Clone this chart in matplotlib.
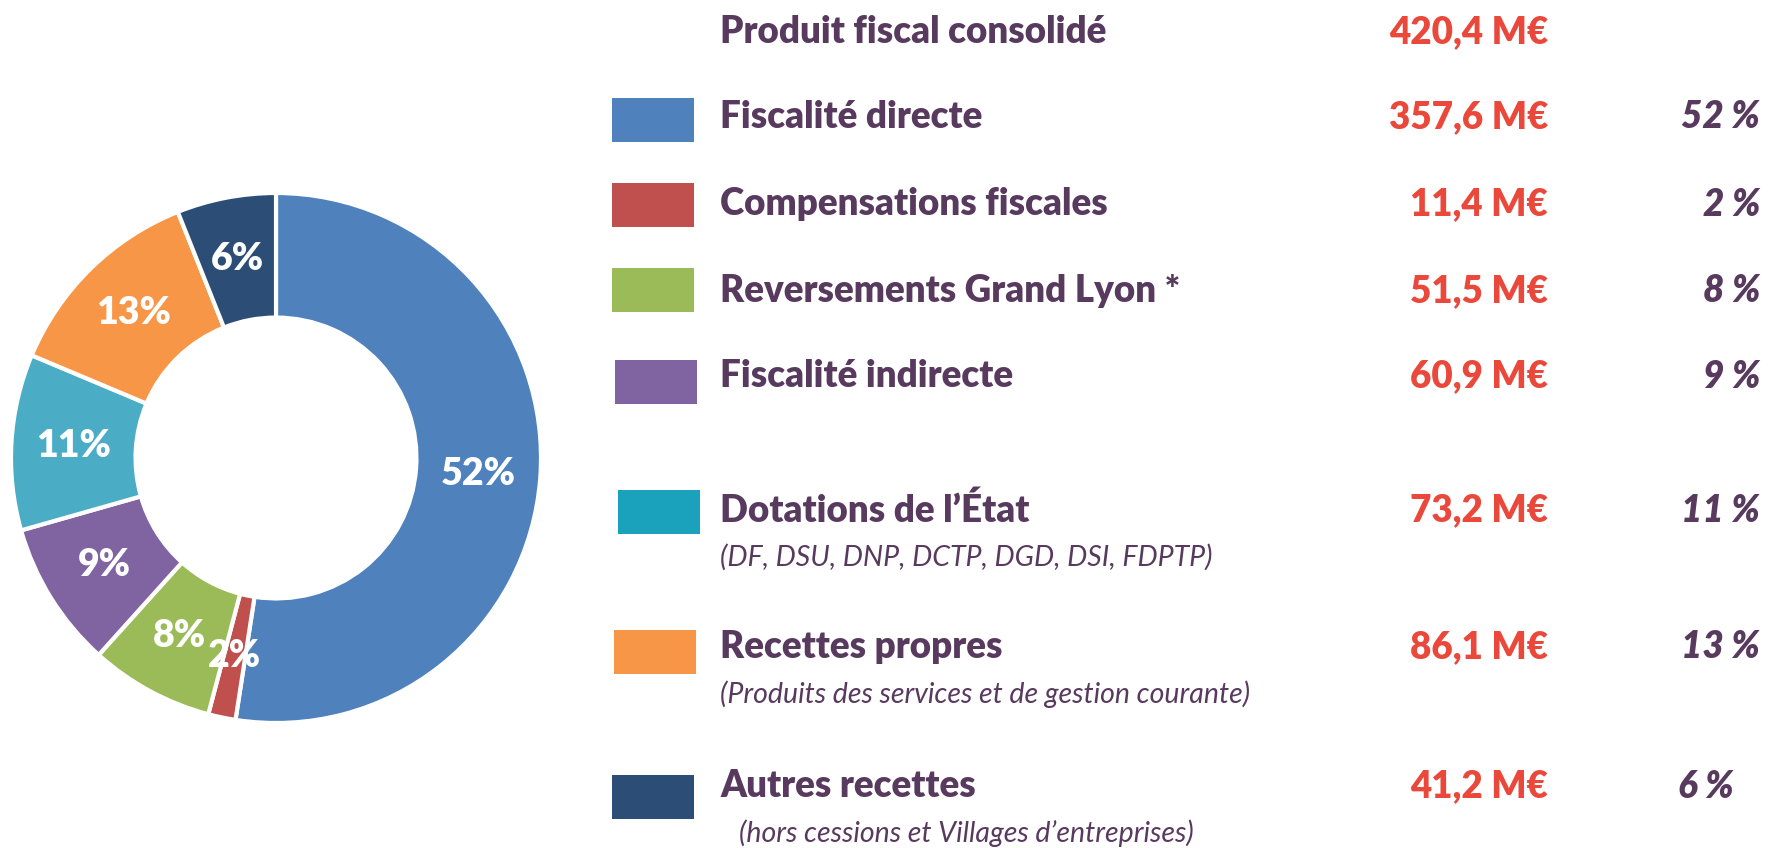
import matplotlib.pyplot as plt
from matplotlib.patches import Rectangle

plt.rcParams["font.family"] = ["Lato", "DejaVu Sans"]

# données
categories = ["Fiscalité directe", "Compensations fiscales", "Reversements Grand Lyon *",
              "Fiscalité indirecte", "Dotations de l’État", "Recettes propres", "Autres recettes"]
sous_titres = ["", "", "", "", "(DF, DSU, DNP, DCTP, DGD, DSI, FDPTP)",
               "(Produits des services et de gestion courante)",
               "(hors cessions et Villages d’entreprises)"]
montants = [357.6, 11.4, 51.5, 60.9, 73.2, 86.1, 41.2]
montants_txt = ["357,6 M€", "11,4 M€", "51,5 M€", "60,9 M€", "73,2 M€", "86,1 M€", "41,2 M€"]
pct_txt = ["52 %", "2 %", "8 %", "9 %", "11 %", "13 %", "6 %"]
total_txt = "420,4 M€"

couleurs = ["#4F81BD", "#C0504D", "#9BBB59", "#8064A2", "#4BACC6", "#F79646", "#2C4D75"]
couleurs_leg = ["#4F81BD", "#C0504D", "#9BBB59", "#8064A2", "#1AA1BB", "#F79646", "#2C4D75"]
violet = "#583A5F"
rouge = "#E9483A"

W, H = 1769, 848
fig = plt.figure(figsize=(W / 100, H / 100), dpi=100)

# donut : centre (276, 458) px, rayon 265 px
ax = fig.add_axes([(276 - 265) / W, (H - 458 - 265) / H, 530 / W, 530 / H])
ax.pie(montants, colors=couleurs, startangle=90, counterclock=False,
       radius=1, wedgeprops=dict(width=0.47, edgecolor="white", linewidth=3),
       autopct=lambda p: f"{p:.0f}%", pctdistance=0.765,
       textprops=dict(color="white", fontsize=27, fontweight="heavy"))
ax.set_xlim(-1, 1)
ax.set_ylim(-1, 1)
ax.axis("off")


def px(x, y):
    return x / W, 1 - y / H


# légende à droite
fs = 26.5
fig.text(*px(720, 32), "Produit fiscal consolidé", color=violet, fontsize=fs,
         fontweight="heavy", va="center")
fig.text(*px(1548, 32), total_txt, color=rouge, fontsize=fs, fontweight="heavy",
         va="center", ha="right")

y_lignes = [117, 204, 291, 376, 510, 647, 786]
y_carres = [120, 205, 290, 382, 512, 652, 797]
x_carres = [612, 612, 612, 615, 618, 614, 612]
x_sous = [720, 720, 720, 720, 720, 720, 739]
for i, nom in enumerate(categories):
    x0, y0 = px(x_carres[i], y_carres[i] + 22)
    fig.add_artist(Rectangle((x0, y0), 82 / W, 44 / H, transform=fig.transFigure,
                             facecolor=couleurs_leg[i], edgecolor="none"))
    fig.text(*px(720, y_lignes[i]), nom, color=violet, fontsize=fs,
             fontweight="heavy", va="center")
    fig.text(*px(1548, y_lignes[i]), montants_txt[i], color=rouge, fontsize=fs,
             fontweight="heavy", va="center", ha="right")
    if i == 6:
        fig.text(*px(1678, y_lignes[i]), pct_txt[i], color=violet, fontsize=fs,
                 fontweight="heavy", fontstyle="italic", va="center", ha="left")
    else:
        fig.text(*px(1760, y_lignes[i]), pct_txt[i], color=violet, fontsize=fs,
                 fontweight="heavy", fontstyle="italic", va="center", ha="right")
    if sous_titres[i]:
        fig.text(*px(x_sous[i], y_lignes[i] + 47), sous_titres[i], color=violet,
                 fontsize=20.5, fontstyle="italic", va="center")

fig.savefig("out.png", dpi=100)
